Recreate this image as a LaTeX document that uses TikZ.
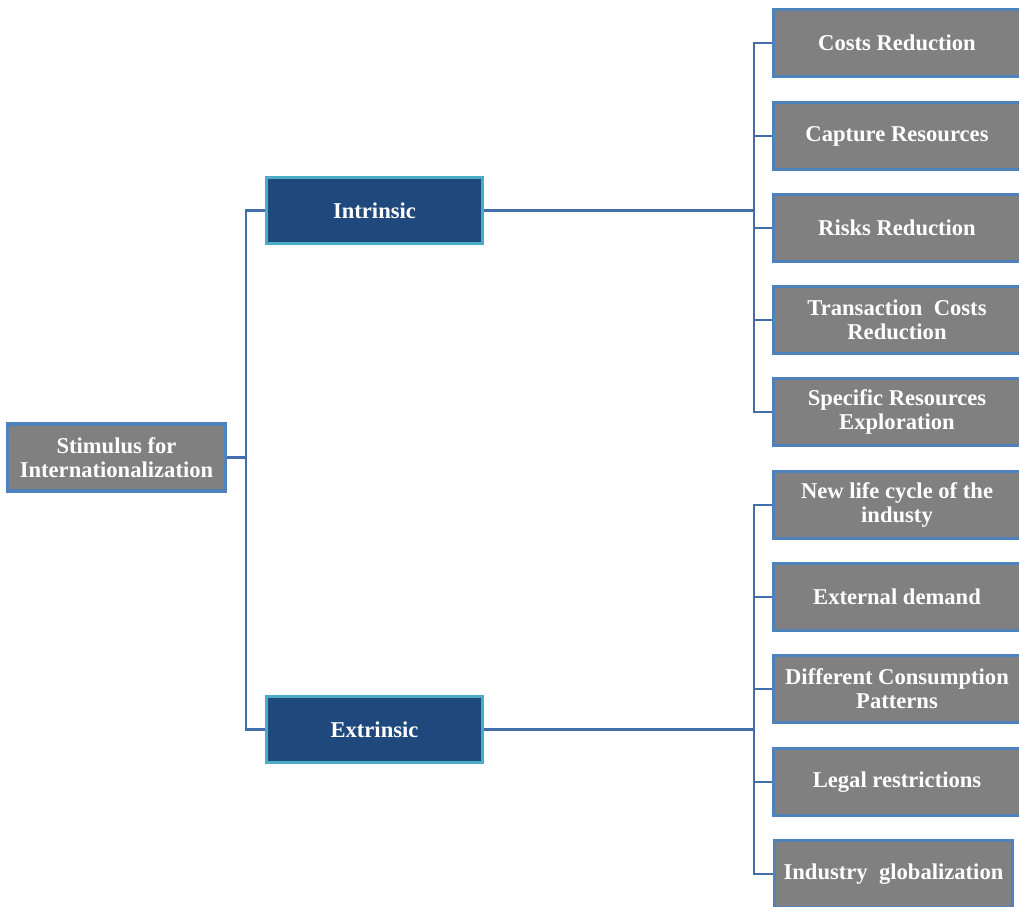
\documentclass[tikz,border=0pt]{standalone}
\usepackage{fontspec}
\setmainfont{Liberation Serif}
\begin{document}
\begin{tikzpicture}[x=1pt,y=-1pt,
  link/.style={draw=linkblue,line width=2.8pt},
  labelfont/.style={font=\bfseries\fontsize{22.6}{24}\selectfont},
  greybox/.style={draw=boxedge,line width=2.3pt,fill=boxgrey,text=white,
    labelfont,align=center,inner sep=0pt},
  navybox/.style={draw=navyedge,line width=2.3pt,fill=navyfill,text=white,
    labelfont,align=center,inner sep=0pt}]
\definecolor{linkblue}{RGB}{66,110,170}
\definecolor{boxedge}{RGB}{79,129,189}
\definecolor{boxgrey}{RGB}{128,128,128}
\definecolor{navyfill}{RGB}{31,73,125}
\definecolor{navyedge}{RGB}{75,172,198}
\useasboundingbox (0,0) rectangle (1019,906);

% root and the two groups
\node[greybox,minimum width=217pt,minimum height=66pt] (root) at (116.5,457.5) {Stimulus for\\Internationalization};
\node[navybox,minimum width=215pt,minimum height=65pt] (intr) at (374.5,210.5) {Intrinsic};
\node[navybox,minimum width=215pt,minimum height=65pt] (extr) at (374.5,729.5) {Extrinsic};

% leaves (boxes run off the right edge)
\foreach \n/\y in {c1/43,c2/136,c3/228,c4/320,c5/412,e1/505,e2/597,e3/689,e4/782}
  \node[greybox,minimum width=252pt,minimum height=66pt] (\n) at (900,\y) {};
\foreach \n/\t in {c1/{Costs Reduction},
                   c2/{Capture Resources},
                   c3/{Risks Reduction},
                   c4/{Transaction\ \ Costs\\Reduction},
                   c5/{Specific Resources\\Exploration},
                   e1/{New life cycle of the\\industy},
                   e2/{External demand},
                   e3/{Different Consumption\\Patterns},
                   e4/{Legal restrictions}}
  \node[text=white,labelfont,align=center,inner sep=0pt] at ([xshift=-3pt]\n.center) {\t};
\node[greybox,minimum width=237pt,minimum height=66pt] (e5) at (893.5,874) {Industry\ \ globalization};

% connectors
\coordinate (rj) at (246,0);
\coordinate (cj) at (754,0);
\draw[link] (root.east) -- (rj |- root.east);
\draw[link] (intr.west) -| (rj |- root.east) |- (extr.west);
\draw[link] (intr.east) -- (cj |- intr.east);
\draw[link] (extr.east) -- (cj |- extr.east);
\draw[link] (c1.west) -| (cj |- c5.west) -- (c5.west);
\foreach \n in {c2,c3,c4} \draw[link] (cj |- \n.west) -- (\n.west);
\draw[link] (e1.west) -| (cj |- e5.west) -- (e5.west);
\foreach \n in {e2,e3,e4} \draw[link] (cj |- \n.west) -- (\n.west);

% borders drawn again over the connector ends
\foreach \n in {c1,c2,c3,c4,c5,e1,e2,e3,e4,e5}
  \draw[boxedge,line width=2.3pt] (\n.north west) rectangle (\n.south east);
\draw[boxedge,line width=2.3pt] (root.north west) rectangle (root.south east);
\draw[navyedge,line width=2.3pt] (intr.north west) rectangle (intr.south east);
\draw[navyedge,line width=2.3pt] (extr.north west) rectangle (extr.south east);
\end{tikzpicture}
\end{document}
